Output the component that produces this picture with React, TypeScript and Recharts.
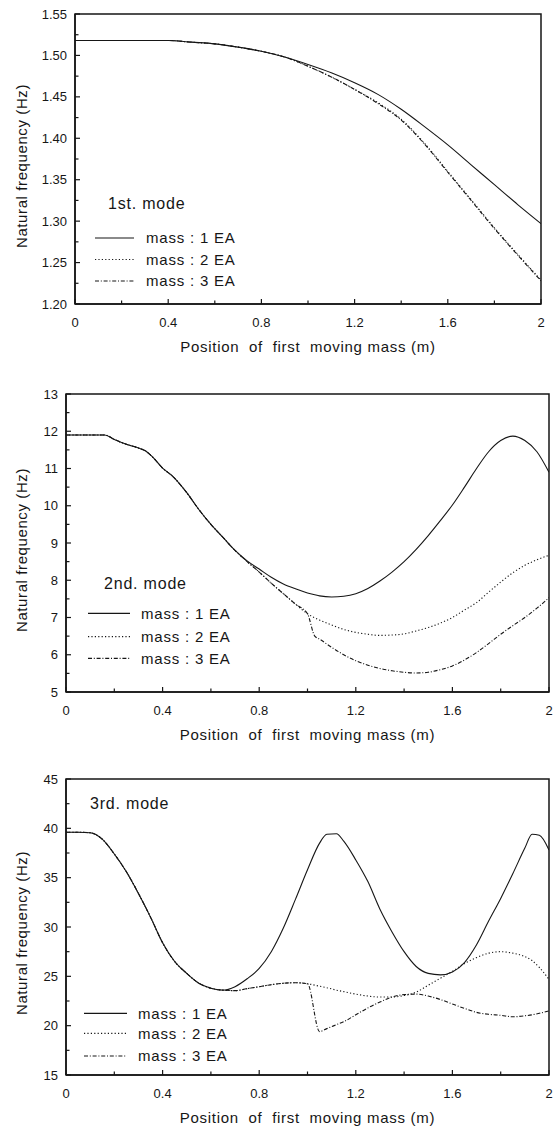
import React from 'react';
import { LineChart, Line, XAxis, YAxis, ReferenceArea, Legend, Label } from 'recharts';

const FONT = '"Liberation Sans", Arial, Helvetica, sans-serif';
const INK = '#161616';
const W = 558;

const seriesNames = ['mass : 1 EA', 'mass : 2 EA', 'mass : 3 EA'];
const seriesDashes = ['0', '1.2 2.2', '4 1.8 1 1.8'];
const modeTitles = ['1st. mode', '2nd. mode', '3rd. mode'];
const xAxisTitle = 'Position  of  first  moving mass (m)';
const yAxisTitle = 'Natural frequency (Hz)';

const xMajorTicks = [0, 0.4, 0.8, 1.2, 1.6, 2];
const xMinorTicks = [0.2, 0.6, 1.0, 1.4, 1.8];

// ---- 1st mode ----
const mode1X = [0, 0.1, 0.2, 0.3, 0.4, 0.5, 0.6, 0.7, 0.8, 0.9, 1.0, 1.1, 1.2, 1.3, 1.4, 1.5, 1.6, 1.7, 1.8, 1.9, 2.0];
const mode1Mass1 = [1.518, 1.518, 1.518, 1.518, 1.518, 1.516, 1.514, 1.510, 1.505, 1.498, 1.489, 1.479, 1.467, 1.453, 1.435, 1.414, 1.392, 1.368, 1.344, 1.320, 1.297];
const mode1Mass2 = [1.518, 1.518, 1.518, 1.518, 1.518, 1.516, 1.514, 1.510, 1.505, 1.498, 1.487, 1.474, 1.459, 1.443, 1.423, 1.394, 1.360, 1.326, 1.292, 1.260, 1.229];
const mode1Mass3 = [1.518, 1.518, 1.518, 1.518, 1.518, 1.516, 1.514, 1.510, 1.505, 1.498, 1.487, 1.474, 1.459, 1.442, 1.422, 1.393, 1.359, 1.325, 1.291, 1.259, 1.228];
const mode1YMajor = [1.2, 1.25, 1.3, 1.35, 1.4, 1.45, 1.5, 1.55];
const mode1YMinor = [1.225, 1.275, 1.325, 1.375, 1.425, 1.475, 1.525];

// ---- 2nd mode ----
const mode2X = [0, 0.05, 0.1, 0.16, 0.2, 0.25, 0.3, 0.33, 0.36, 0.4, 0.44, 0.5, 0.55, 0.6, 0.65, 0.7, 0.75, 0.8, 0.85, 0.9, 0.95, 1.0, 1.03, 1.05, 1.1, 1.15, 1.2, 1.25, 1.3, 1.35, 1.4, 1.45, 1.5, 1.55, 1.6, 1.65, 1.7, 1.75, 1.8, 1.85, 1.9, 1.95, 2.0];
const mode2Mass1 = [11.9, 11.9, 11.9, 11.9, 11.78, 11.65, 11.55, 11.47, 11.3, 11.01, 10.8, 10.35, 9.9, 9.5, 9.15, 8.8, 8.52, 8.3, 8.08, 7.9, 7.77, 7.66, 7.61, 7.58, 7.55, 7.57, 7.64, 7.78, 7.98, 8.22, 8.5, 8.83, 9.2, 9.6, 10.02, 10.5, 11.0, 11.45, 11.75, 11.87, 11.75, 11.45, 10.9];
const mode2Mass2 = [11.9, 11.9, 11.9, 11.9, 11.78, 11.65, 11.55, 11.47, 11.3, 11.01, 10.8, 10.35, 9.9, 9.5, 9.15, 8.8, 8.5, 8.22, 7.92, 7.64, 7.36, 7.1, 6.99, 6.93, 6.8, 6.68, 6.6, 6.55, 6.52, 6.53, 6.56, 6.64, 6.73, 6.85, 7.0, 7.2, 7.4, 7.68, 7.95, 8.2, 8.4, 8.55, 8.67];
const mode2Mass3 = [11.9, 11.9, 11.9, 11.9, 11.78, 11.65, 11.55, 11.47, 11.3, 11.01, 10.8, 10.35, 9.9, 9.5, 9.15, 8.8, 8.5, 8.22, 7.92, 7.64, 7.36, 7.1, 6.5, 6.42, 6.2, 6.0, 5.84, 5.72, 5.63, 5.57, 5.53, 5.51, 5.53, 5.6, 5.7, 5.86, 6.06, 6.3, 6.55, 6.78, 7.0, 7.25, 7.53];
const mode2YMajor = [5, 6, 7, 8, 9, 10, 11, 12, 13];
const mode2YMinor = [5.5, 6.5, 7.5, 8.5, 9.5, 10.5, 11.5, 12.5];

// ---- 3rd mode ----
const mode3X = [0, 0.05, 0.1, 0.15, 0.2, 0.25, 0.3, 0.35, 0.4, 0.45, 0.5, 0.55, 0.6, 0.65, 0.7, 0.75, 0.8, 0.85, 0.9, 0.95, 1.0, 1.05, 1.08, 1.12, 1.15, 1.2, 1.25, 1.3, 1.35, 1.4, 1.45, 1.5, 1.55, 1.6, 1.65, 1.7, 1.75, 1.8, 1.85, 1.9, 1.93, 1.96, 2.0];
const mode3Mass1 = [39.6, 39.6, 39.55, 38.9, 37.4, 35.6, 33.4, 31.0, 28.4, 26.5, 25.3, 24.3, 23.8, 23.6, 23.95, 24.75, 25.8, 27.5, 29.9, 32.8, 35.8, 38.5, 39.4, 39.45, 38.7, 36.8, 34.6, 31.8, 29.5, 27.5, 26.0, 25.3, 25.15, 25.45, 26.4, 28.2, 30.6, 32.9, 35.4, 38.0, 39.4, 39.3, 37.8];
const mode3Mass2 = [39.6, 39.6, 39.55, 38.9, 37.4, 35.6, 33.4, 31.0, 28.4, 26.5, 25.3, 24.3, 23.8, 23.6, 23.55, 23.75, 23.95, 24.15, 24.3, 24.35, 24.25, 24.0, 23.85, 23.6, 23.45, 23.2, 23.0, 22.9, 22.9, 23.05, 23.4, 24.1, 24.8, 25.5, 26.3, 26.9, 27.35, 27.5, 27.35, 27.0, 26.6, 25.9, 24.7];
const mode3Mass3 = [39.6, 39.6, 39.55, 38.9, 37.4, 35.6, 33.4, 31.0, 28.4, 26.5, 25.3, 24.3, 23.8, 23.6, 23.55, 23.75, 23.95, 24.15, 24.3, 24.35, 24.25, 19.4, 19.7, 20.1, 20.4, 21.1, 21.8, 22.4, 22.9, 23.15, 23.2, 23.0, 22.65, 22.2, 21.75, 21.35, 21.15, 21.05, 20.9, 21.0, 21.1, 21.25, 21.5];
const mode3YMajor = [15, 20, 25, 30, 35, 40, 45];
const mode3YMinor = [17.5, 22.5, 27.5, 32.5, 37.5, 42.5];

const TM = 10;
const XAXIS_H = 50;

const isIn = (arr: number[], v: number) => arr.some((m) => Math.abs(m - v) < 1e-6);
const fmtX = (v: number) => String(Number(v.toFixed(1)));

type PanelProps = {
  top: number;
  height: number;
  plotLeft: number;
  plotRight: number;
  plotTop: number;
  plotBottom: number;
  xs: number[];
  m1: number[];
  m2: number[];
  m3: number[];
  yDomain: [number, number];
  yMajor: number[];
  yMinor: number[];
  yFmt: (v: number) => string;
  title: string;
  titleX: number;
  titleY: number;
  legX1: number;
  legX2: number;
  legTextX: number;
  legRows: number[];
  yTitleY: number;
  xTitleY: number;
};

function Panel(p: PanelProps) {
  const data = p.xs.map((x, i) => ({ x, m1: p.m1[i], m2: p.m2[i], m3: p.m3[i] }));
  const xCenter = (p.plotLeft + p.plotRight) / 2;

  const YTick = (tp: any) => {
    const { x, y, payload } = tp;
    const axisX = x + TM;
    const major = isIn(p.yMajor, payload.value);
    return (
      <g>
        <line x1={axisX} x2={axisX + (major ? 5 : 3.5)} y1={y} y2={y} stroke={INK} strokeWidth={1.2} />
        {major && (
          <text x={axisX - 8} y={y} dy={4.6} textAnchor="end" fontSize={13} fontFamily={FONT} fill={INK}>
            {p.yFmt(payload.value)}
          </text>
        )}
      </g>
    );
  };

  const XTick = (tp: any) => {
    const { x, y, payload } = tp;
    const axisY = y - TM;
    const major = isIn(xMajorTicks, payload.value);
    return (
      <g>
        <line x1={x} x2={x} y1={axisY} y2={axisY - (major ? 5 : 3.5)} stroke={INK} strokeWidth={1.2} />
        {major && (
          <text x={x} y={axisY + 18} dy={4.6} textAnchor="middle" fontSize={13} fontFamily={FONT} fill={INK}>
            {fmtX(payload.value)}
          </text>
        )}
      </g>
    );
  };

  const legendContent = () => (
    <svg width={W} height={p.height} style={{ display: 'block', overflow: 'visible' }}>
      <text x={p.titleX} y={p.titleY} dy={5.8} fontSize={16} letterSpacing={0.8} fontFamily={FONT} fill={INK}>
        {p.title}
      </text>
      {seriesNames.map((name, i) => (
        <g key={name}>
          <line
            x1={p.legX1}
            x2={p.legX2}
            y1={p.legRows[i]}
            y2={p.legRows[i]}
            stroke={INK}
            strokeWidth={1.2}
            strokeDasharray={seriesDashes[i]}
          />
          <text x={p.legTextX} y={p.legRows[i]} dy={5.4} fontSize={15} letterSpacing={0.8} fontFamily={FONT} fill={INK}>
            {name}
          </text>
        </g>
      ))}
    </svg>
  );

  return (
    <div style={{ position: 'absolute', left: 0, top: p.top, width: W, height: p.height }}>
      <LineChart
        width={W}
        height={p.height}
        data={data}
        margin={{ top: p.plotTop, right: W - p.plotRight, left: 0, bottom: p.height - p.plotBottom - XAXIS_H }}
      >
        <XAxis
          dataKey="x"
          type="number"
          domain={[0, 2]}
          ticks={[...xMajorTicks, ...xMinorTicks].sort((a, b) => a - b)}
          interval={0}
          tickSize={0}
          tickMargin={TM}
          tickLine={false}
          axisLine={{ stroke: INK, strokeWidth: 1.5 }}
          height={XAXIS_H}
          tick={XTick}
          allowDataOverflow
        >
          <Label
            content={() => (
              <text
                x={xCenter}
                y={p.xTitleY}
                dy={5.4}
                textAnchor="middle"
                fontSize={15}
                letterSpacing={0.7}
                fontFamily={FONT}
                fill={INK}
                style={{ whiteSpace: 'pre' }}
              >
                {xAxisTitle}
              </text>
            )}
          />
        </XAxis>
        <YAxis
          type="number"
          domain={p.yDomain}
          ticks={[...p.yMajor, ...p.yMinor].sort((a, b) => a - b)}
          interval={0}
          tickSize={0}
          tickMargin={TM}
          tickLine={false}
          axisLine={{ stroke: INK, strokeWidth: 1.5 }}
          width={p.plotLeft}
          tick={YTick}
          allowDataOverflow
        >
          <Label
            content={() => (
              <text
                x={22}
                y={p.yTitleY}
                transform={`rotate(-90 22 ${p.yTitleY})`}
                dy={5.4}
                textAnchor="middle"
                fontSize={15}
                letterSpacing={0.6}
                fontFamily={FONT}
                fill={INK}
              >
                {yAxisTitle}
              </text>
            )}
          />
        </YAxis>
        <ReferenceArea x1={0} x2={2} y1={p.yDomain[0]} y2={p.yDomain[1]} fill="none" stroke={INK} strokeWidth={1.5} fillOpacity={0} />
        <Line dataKey="m3" type="monotone" stroke={INK} strokeWidth={1.1} strokeDasharray={seriesDashes[2]} dot={false} isAnimationActive={false} />
        <Line dataKey="m2" type="monotone" stroke={INK} strokeWidth={1.1} strokeDasharray={seriesDashes[1]} dot={false} isAnimationActive={false} />
        <Line dataKey="m1" type="monotone" stroke={INK} strokeWidth={1.1} dot={false} isAnimationActive={false} />
        <Legend
          layout="vertical"
          align="center"
          verticalAlign="middle"
          content={legendContent}
          wrapperStyle={{ position: 'absolute', left: 0, top: 0, width: W, height: p.height, pointerEvents: 'none' }}
        />
      </LineChart>
    </div>
  );
}

export default function App() {
  return (
    <div style={{ position: 'absolute', left: 0, top: 0, width: W, height: 1130, background: '#fff' }}>
      <Panel
        top={0}
        height={370}
        plotLeft={75}
        plotRight={541}
        plotTop={14}
        plotBottom={304}
        xs={mode1X}
        m1={mode1Mass1}
        m2={mode1Mass2}
        m3={mode1Mass3}
        yDomain={[1.2, 1.55]}
        yMajor={mode1YMajor}
        yMinor={mode1YMinor}
        yFmt={(v) => v.toFixed(2)}
        title={modeTitles[0]}
        titleX={108}
        titleY={203}
        legX1={95}
        legX2={134}
        legTextX={146}
        legRows={[238, 259.5, 281]}
        yTitleY={166}
        xTitleY={347}
      />
      <Panel
        top={370}
        height={380}
        plotLeft={66}
        plotRight={549}
        plotTop={24}
        plotBottom={322}
        xs={mode2X}
        m1={mode2Mass1}
        m2={mode2Mass2}
        m3={mode2Mass3}
        yDomain={[5, 13]}
        yMajor={mode2YMajor}
        yMinor={mode2YMinor}
        yFmt={(v) => String(Math.round(v))}
        title={modeTitles[1]}
        titleX={104}
        titleY={213}
        legX1={88}
        legX2={130}
        legTextX={141}
        legRows={[243.3, 266.7, 288.3]}
        yTitleY={180}
        xTitleY={365}
      />
      <Panel
        top={750}
        height={380}
        plotLeft={66}
        plotRight={549}
        plotTop={29}
        plotBottom={325}
        xs={mode3X}
        m1={mode3Mass1}
        m2={mode3Mass2}
        m3={mode3Mass3}
        yDomain={[15, 45]}
        yMajor={mode3YMajor}
        yMinor={mode3YMinor}
        yFmt={(v) => String(Math.round(v))}
        title={modeTitles[2]}
        titleX={90}
        titleY={52.7}
        legX1={84}
        legX2={127}
        legTextX={138}
        legRows={[263.3, 283.3, 306]}
        yTitleY={183}
        xTitleY={368}
      />
    </div>
  );
}
